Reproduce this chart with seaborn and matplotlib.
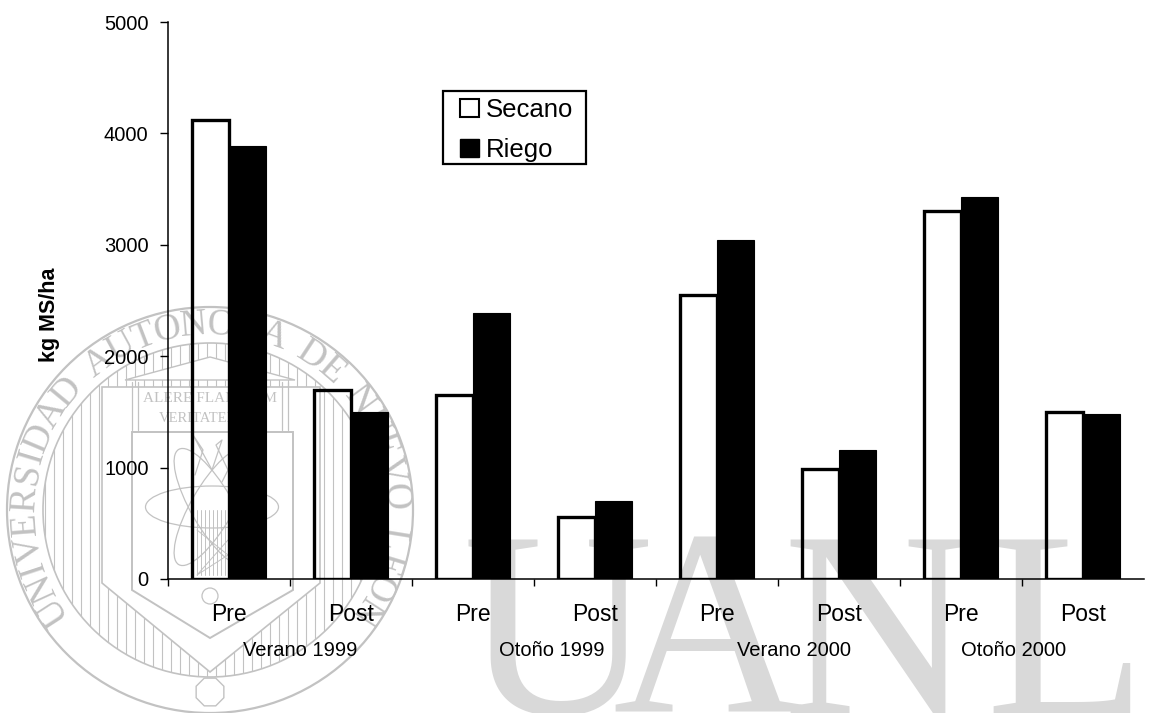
import numpy as np
import pandas as pd
import matplotlib
matplotlib.use('Agg')
import matplotlib.pyplot as plt
from matplotlib.patches import Circle, Ellipse, Patch, Polygon, Rectangle
import seaborn as sns

# Values
etapas = ['Pre', 'Post', 'Pre ', 'Post ', 'Pre  ', 'Post  ', 'Pre   ', 'Post   ']
secano = [4120, 1700, 1650, 560, 2550, 990, 3300, 1500]
riego = [3890, 1500, 2390, 700, 3040, 1160, 3430, 1480]
temporadas = ['Verano 1999', 'Otoño 1999', 'Verano 2000', 'Otoño 2000']
temporada_x = [300, 552, 794, 1014]
y_ticks = [0, 1000, 2000, 3000, 4000, 5000]

W, H = 1150, 713
GRIS = '#c2c2c2'

sns.set_style('white')
plt.rcParams['font.family'] = ['Liberation Sans', 'DejaVu Sans']
plt.rcParams.update({'text.color': 'black', 'axes.labelcolor': 'black',
                     'xtick.color': 'black', 'ytick.color': 'black'})


def draw_seal(bg):
    # University seal watermark, in pixel coordinates
    cx, cy = 210, 510
    clip = Circle((cx, cy), 167, transform=bg.transData)
    for x in np.arange(cx - 165, cx + 166, 9):
        ln, = bg.plot([x, x], [300, 720], color=GRIS, lw=0.8, zorder=1)
        ln.set_clip_path(clip)
    bg.add_patch(Circle((cx, cy), 203, fill=False, ec=GRIS, lw=1.6, zorder=2))
    bg.add_patch(Circle((cx, cy), 167, fill=False, ec=GRIS, lw=1.2, zorder=2))

    outer = [(102, 387), (320, 387), (320, 583), (210, 672), (102, 583)]
    inner = [(132, 432), (293, 432), (293, 590), (210, 638), (132, 590)]
    bg.add_patch(Polygon(outer, fc='white', ec=GRIS, lw=1.2, zorder=3))
    bg.add_patch(Polygon(inner, fc='white', ec=GRIS, lw=1.4, zorder=3.2))

    # temple front
    bg.add_patch(Polygon([(125, 380), (295, 380), (210, 357)], fc='white', ec=GRIS, lw=1, zorder=3.3))
    for x in [132, 138, 282, 288]:
        bg.plot([x, x], [382, 430], color=GRIS, lw=0.9, zorder=3.4)
    bg.text(210, 399, 'ALERE FLAMMAM', color=GRIS, family='Liberation Serif', fontsize=11,
            ha='center', va='center', zorder=3.4)
    bg.text(200, 419, 'VERITATEM', color=GRIS, family='Liberation Serif', fontsize=10.5,
            ha='center', va='center', zorder=3.4)

    # atom and torch
    for ang in [0, 60, -60]:
        bg.add_patch(Ellipse((212, 507), 133, 42, angle=ang, fill=False, ec=GRIS, lw=0.9, zorder=3.5))
    for x in np.arange(197, 228, 4):
        bg.plot([x, x], [510, 575], color=GRIS, lw=0.7, zorder=3.5)
    bg.plot([197, 228, 197, 228], [530, 555, 575, 540], color=GRIS, lw=0.7, zorder=3.5)
    bg.plot([195, 203, 193, 212, 222, 216, 228, 222],
            [475, 450, 435, 470, 440, 445, 470, 482], color=GRIS, lw=0.9, zorder=3.5)
    bg.add_patch(Circle((210, 596), 8, fill=False, ec=GRIS, lw=0.9, zorder=3.5))

    # octagon at the foot
    ang = np.deg2rad(np.arange(22.5, 360, 45))
    bg.add_patch(Polygon(np.c_[210 + 15 * np.cos(ang), 692 + 15 * np.sin(ang)],
                         fill=False, ec=GRIS, lw=1, zorder=3.5))

    # lettering round the ring, narrow letters take less of the arc
    letras = 'UNIVERSIDAD AUTONOMA DE NUEVO LEON'
    pasos = np.array([0.5 if c == 'I' else 0.6 if c == ' ' else 0.85 if c in 'EST' else 1.0 for c in letras])
    pos = np.cumsum(pasos) - pasos / 2
    angulos = 217 - 254 * pos / pasos.sum()
    for ch, a in zip(letras, angulos):
        r = np.deg2rad(a)
        bg.text(cx + 185 * np.cos(r), cy - 185 * np.sin(r), ch, color=GRIS, fontsize=27,
                family='Liberation Serif', rotation=a - 90, rotation_mode='anchor',
                ha='center', va='center', zorder=4)


fig = plt.figure(figsize=(W / 100, H / 100), dpi=100, facecolor='white')

bg = fig.add_axes([0, 0, 1, 1], zorder=0)
bg.set_xlim(0, W)
bg.set_ylim(H, 0)
bg.axis('off')
draw_seal(bg)
for letra, x in zip('UANL', [463, 612, 782, 985]):
    bg.text(x, 713, letra, color='#d9d9d9', family='Liberation Serif', fontsize=190,
            ha='left', va='baseline', zorder=5)

# Main chart
left, right, y0, y5000 = 168, 1144, 579, 22
ax = fig.add_axes([left / W, 1 - y0 / H, (right - left) / W, (y0 - y5000) / H], zorder=2)
ax.patch.set_alpha(0)

df = pd.DataFrame({'etapa': etapas * 2,
                   'kg': secano + riego,
                   'serie': ['Secano'] * len(secano) + ['Riego'] * len(riego)})
sns.barplot(data=df, x='etapa', y='kg', hue='serie', hue_order=['Secano', 'Riego'],
            palette=['white', 'black'], width=0.61, gap=0, errorbar=None,
            legend=False, saturation=1, ax=ax)

# The open bars let the watermark show through
for bar in ax.containers[0]:
    bar.set_facecolor('none')
    bar.set_edgecolor('black')
    bar.set_linewidth(2.4)
for bar in ax.containers[1]:
    bar.set_edgecolor('black')
    bar.set_linewidth(0.8)

ax.set_xlim(-0.5, len(etapas) - 0.5)
ax.set_ylim(0, 5000)
ax.set_yticks(y_ticks)
ax.set_yticklabels([str(v) for v in y_ticks], fontsize=14.5)
ax.set_xticks(np.arange(len(etapas)) - 0.5, minor=True)
ax.set_xticks(np.arange(len(etapas)))
ax.set_xticklabels([e.strip() for e in etapas], fontsize=16.5)
ax.tick_params(axis='x', which='major', length=0, pad=17)
ax.tick_params(axis='x', which='minor', length=5, width=1, color='black', direction='out', bottom=True)
ax.tick_params(axis='y', length=6, width=1, color='black', direction='out', left=True, pad=8)
ax.set_xlabel('')
ax.set_ylabel('kg MS/ha', fontsize=15.5, fontweight='bold')
ax.yaxis.set_label_coords((60 - left) / (right - left), (y0 - 315) / (y0 - y5000))
sns.despine(ax=ax)
for s in ['left', 'bottom']:
    ax.spines[s].set_color('black')
    ax.spines[s].set_linewidth(1.1)

for nombre, x in zip(temporadas, temporada_x):
    fig.text(x / W, 1 - 650 / H, nombre, fontsize=14.5, ha='center', va='center')

handles = [Patch(facecolor='white', edgecolor='black', lw=1.5, label='Secano'),
           Patch(facecolor='black', edgecolor='black', label='Riego')]
ax.legend(handles=handles, loc='upper left', bbox_to_anchor=(460 / W, 1 - 98 / H),
          bbox_transform=fig.transFigure, borderaxespad=0, borderpad=0, fontsize=18.5,
          handlelength=0.74, handleheight=0.74, handletextpad=0.25,
          labelspacing=0.62, frameon=False)
# Legend box has uneven padding, so it is drawn by hand
fig.add_artist(Rectangle((443 / W, 1 - 164 / H), 143 / W, 73 / H, transform=fig.transFigure,
                         fill=False, ec='black', lw=1.6, zorder=5))

fig.savefig('out.png', dpi=100)
